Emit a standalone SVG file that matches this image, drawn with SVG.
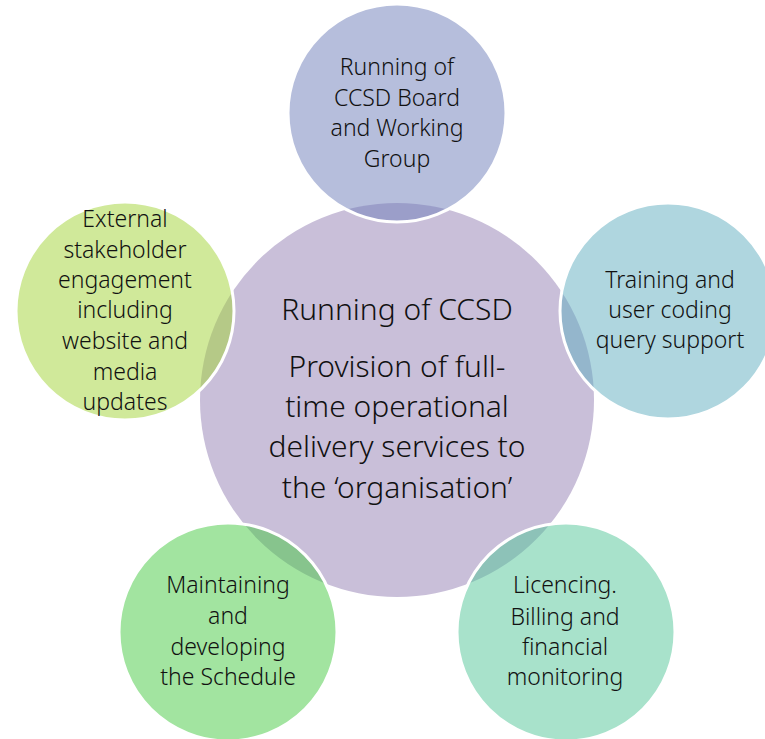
<svg xmlns="http://www.w3.org/2000/svg" width="765" height="739" viewBox="0 0 765 739">
<style>
.sat{fill-opacity:0.5;stroke:#ffffff;stroke-width:3}
.t{font-family:"Noto Sans","Open Sans",sans-serif;font-size:23px;font-weight:300;fill:#111111;text-anchor:middle}
.c{font-family:"Noto Sans","Open Sans",sans-serif;font-size:30px;font-weight:300;fill:#111111;text-anchor:middle}
</style>
<rect width="765" height="739" fill="#ffffff"/>
<g id="center">
<circle cx="397" cy="400" r="197" fill="#c9bfd9"/>
</g>
<g id="top">
<circle class="sat" cx="397" cy="113" r="109" fill="#6d7db9"/>
<text class="t" x="397" y="75">Running of</text>
<text class="t" x="397" y="106">CCSD Board</text>
<text class="t" x="397" y="136">and Working</text>
<text class="t" x="397" y="167">Group</text>
</g>
<g id="right">
<circle class="sat" cx="668" cy="311" r="108" fill="#5fadbf"/>
<text class="t" x="670" y="288">Training and</text>
<text class="t" x="670" y="318">user coding</text>
<text class="t" x="670" y="348">query support</text>
</g>
<g id="bottom-right">
<circle class="sat" cx="566" cy="632" r="109" fill="#51c597"/>
<text class="t" x="565" y="593">Licencing.</text>
<text class="t" x="565" y="625">Billing and</text>
<text class="t" x="565" y="655">financial</text>
<text class="t" x="565" y="685">monitoring</text>
</g>
<g id="bottom-left">
<circle class="sat" cx="228" cy="632" r="109" fill="#45c941"/>
<text class="t" x="228" y="593">Maintaining</text>
<text class="t" x="228" y="624">and</text>
<text class="t" x="228" y="655">developing</text>
<text class="t" x="228" y="685">the Schedule</text>
</g>
<g id="left">
<circle class="sat" cx="125" cy="311" r="109" fill="#a1d335"/>
<text class="t" x="125" y="227">External</text>
<text class="t" x="125" y="258">stakeholder</text>
<text class="t" x="125" y="288">engagement</text>
<text class="t" x="125" y="318">including</text>
<text class="t" x="125" y="349">website and</text>
<text class="t" x="125" y="380">media</text>
<text class="t" x="125" y="410">updates</text>
</g>
<g id="center-text">
<text class="c" x="397" y="320">Running of CCSD</text>
<text class="c" x="397" y="377">Provision of full-</text>
<text class="c" x="397" y="417">time operational</text>
<text class="c" x="397" y="457">delivery services to</text>
<text class="c" x="397" y="498">the ‘organisation’</text>
</g>
<g id="connectors"/>
</svg>
